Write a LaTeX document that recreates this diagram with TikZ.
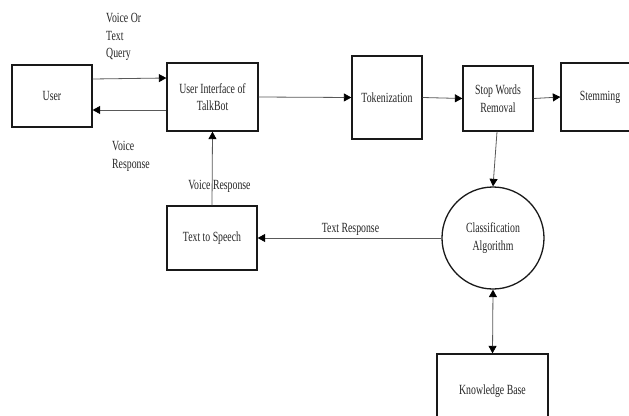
\documentclass[tikz,border=0pt]{standalone}
\usepackage{fontspec}
\setmainfont{Liberation Serif}[FakeStretch=0.7]
\usetikzlibrary{arrows.meta}
\begin{document}
\begin{tikzpicture}[x=1pt,y=-1pt,
  every node/.style={font=\fontsize{14}{17.5}\selectfont, text=black!85, inner sep=0pt},
  box/.style={draw=black!90, line width=1.3pt, rectangle, align=center},
  conn/.style={draw=black!65, line width=0.8pt, -{Triangle[length=7.5pt,width=8pt,color=black]}},
  lbl/.style={align=left}]
\useasboundingbox (0,0) rectangle (629,415);
\clip (0,0) rectangle (629,415);
\fill[white] (0,0) rectangle (629,415);
\node[box, minimum width=80pt, minimum height=62pt] (user) at (52,96) {User};
\node[box, minimum width=91pt, minimum height=68pt] (ui) at (212.5,97) {User Interface of\\TalkBot};
\node[box, minimum width=70pt, minimum height=83pt] (tok) at (387,97.5) {Tokenization};
\node[box, minimum width=70pt, minimum height=65pt] (stop) at (498,98.5) {Stop Words\\Removal};
\node[box, minimum width=78pt, minimum height=68pt] (stem) at (600,97) {Stemming};
\node[box, minimum width=90pt, minimum height=64pt] (tts) at (212,238) {Text to Speech};
\node[circle, draw=black!90, line width=1.3pt, minimum size=102pt, align=center] (cls) at (493,238) {Classification\\Algorithm};
\node[box, minimum width=111pt, minimum height=74pt] (kb) at (492.5,391) {Knowledge Base};
\draw[conn] ([yshift=17pt]user.east) -- ([yshift=19pt]ui.west);
\draw[conn] ([yshift=-13pt]ui.west) -- ([yshift=-14pt]user.east);
\draw[conn] (tts.north) -- (ui.south);
\draw[conn] (ui.east) -- (tok.west);
\draw[conn] (tok.east) -- (stop.west);
\draw[conn] (stop.east) -- (stem.west);
\draw[conn] ([xshift=-1pt]stop.south) -- (cls.north);
\draw[conn] (cls.west) -- (tts.east);
\draw[conn, {Triangle[length=7.5pt,width=8pt,color=black]}-{Triangle[length=7.5pt,width=8pt,color=black]}] (cls.south) -- (kb.north);
\node[lbl, anchor=west] (q) at (106,37) {Voice Or\\Text\\Query};
\node[lbl, anchor=west] (vr) at (112,156.5) {Voice\\Response};
\node (vr2) at (219.5,186) {Voice Response};
\node (tr) at (350.5,229) {Text Response};
\end{tikzpicture}
\end{document}
